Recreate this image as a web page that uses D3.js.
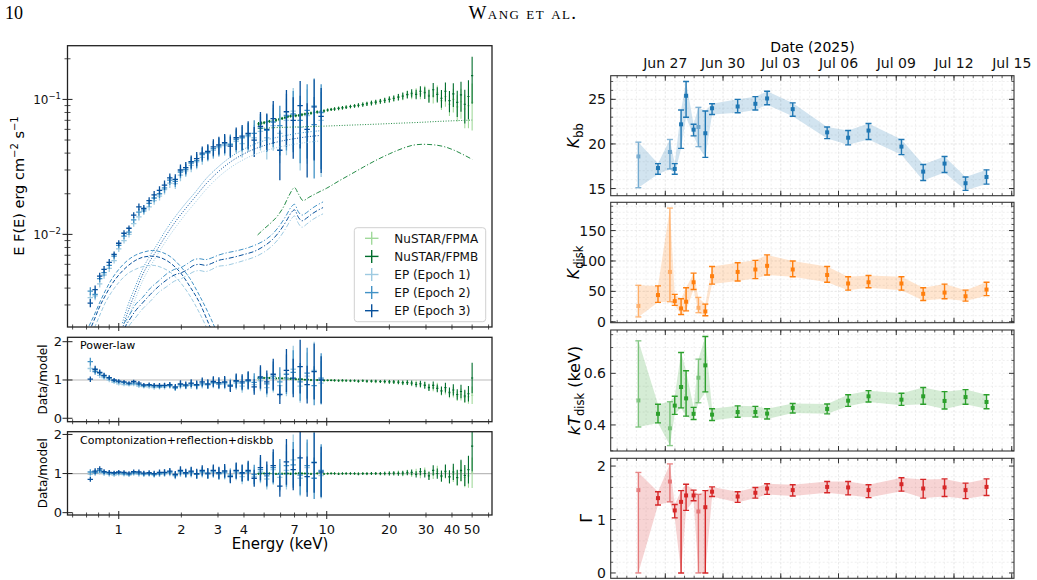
<!DOCTYPE html>
<html>
<head>
<meta charset="utf-8">
<script src="https://cdn.jsdelivr.net/npm/d3@7"></script>
<style>
  body { margin: 0; background: #fff; }
  svg { display: block; font-family: "DejaVu Sans", sans-serif; }
</style>
</head>
<body>
<div class="chart"></div>
<script>
// ---------- spectrum data (left) ----------
const epEnergy = [0.73, 0.77, 0.81, 0.85, 0.90, 0.95, 1.00, 1.06, 1.12, 1.18,
  1.25, 1.32, 1.40, 1.48, 1.57, 1.66, 1.76, 1.87, 1.98, 2.10,
  2.23, 2.37, 2.52, 2.68, 2.85, 3.03, 3.23, 3.44, 3.67, 3.92,
  4.19, 4.48, 4.80, 5.15, 5.53, 5.95, 6.40, 6.90, 7.45, 8.05,
  8.70, 9.40];
const ep1Flux = [0.0034, 0.0035, 0.0043, 0.0050, 0.0056, 0.0064, 0.0078, 0.0090, 0.0100, 0.0120,
  0.0135, 0.0148, 0.0160, 0.0178, 0.0192, 0.0215, 0.0240, 0.0238, 0.0275, 0.0296,
  0.0325, 0.0345, 0.0372, 0.0398, 0.0420, 0.0440, 0.0455, 0.0470, 0.0490, 0.0470,
  0.0530, 0.0520, 0.0580, 0.0520, 0.0640, 0.0560, 0.0700, 0.0820, 0.0620, 0.0760,
  0.0900, 0.0700];
const ep2Flux = [0.0038, 0.0036, 0.0047, 0.0052, 0.0059, 0.0069, 0.0083, 0.0097, 0.0104, 0.0128,
  0.0146, 0.0152, 0.0170, 0.0186, 0.0200, 0.0221, 0.0252, 0.0247, 0.0290, 0.0303,
  0.0338, 0.0352, 0.0390, 0.0405, 0.0432, 0.0450, 0.0468, 0.0462, 0.0505, 0.0520,
  0.0545, 0.0560, 0.0610, 0.0590, 0.0680, 0.0640, 0.0760, 0.0780, 0.0700, 0.0830,
  0.0650, 0.0800];
const ep3Flux = [0.0031, 0.0039, 0.0049, 0.0055, 0.0062, 0.0071, 0.0086, 0.0102, 0.0111, 0.0139,
  0.0160, 0.0156, 0.0178, 0.0196, 0.0212, 0.0232, 0.0262, 0.0256, 0.0300, 0.0312,
  0.0346, 0.0364, 0.0400, 0.0412, 0.0445, 0.0460, 0.0478, 0.0450, 0.0520, 0.0535,
  0.0560, 0.0500, 0.0630, 0.0600, 0.0720, 0.0420, 0.0810, 0.0700, 0.0900, 0.0600,
  0.0880, 0.0750];
const epErrFrac = [0.07, 0.07, 0.06, 0.06, 0.06, 0.05, 0.05, 0.05, 0.05, 0.05,
  0.06, 0.06, 0.06, 0.07, 0.07, 0.08, 0.08, 0.09, 0.10, 0.10,
  0.11, 0.12, 0.12, 0.13, 0.14, 0.15, 0.16, 0.18, 0.19, 0.21,
  0.23, 0.25, 0.28, 0.31, 0.35, 0.40, 0.45, 0.48, 0.52, 0.56,
  0.60, 0.62];
const ep1RatioPL = [1.30, 1.25, 1.12, 1.06, 1.00, 0.94, 0.90, 0.88, 0.87, 0.88,
  0.84, 0.83, 0.82, 0.80, 0.81, 0.82, 0.84, 0.78, 0.84, 0.84,
  0.86, 0.85, 0.88, 0.88, 0.91, 0.89, 0.90, 0.88, 0.92, 0.84,
  0.96, 0.88, 0.98, 0.80, 1.04, 0.85, 1.05, 1.28, 0.84, 1.10,
  1.25, 0.92];
const ep2RatioPL = [1.48, 1.22, 1.18, 1.10, 1.05, 0.98, 0.95, 0.93, 0.90, 0.92,
  0.88, 0.85, 0.86, 0.84, 0.83, 0.85, 0.86, 0.80, 0.88, 0.85,
  0.90, 0.86, 0.92, 0.88, 0.94, 0.90, 0.93, 0.86, 0.96, 0.92,
  0.98, 0.94, 1.04, 0.90, 1.10, 0.95, 1.15, 1.20, 0.95, 1.18,
  0.85, 1.05];
const ep3RatioPL = [1.02, 1.28, 1.20, 1.12, 1.06, 1.00, 0.97, 0.95, 0.92, 0.96,
  0.92, 0.87, 0.88, 0.86, 0.86, 0.86, 0.88, 0.82, 0.90, 0.87,
  0.92, 0.88, 0.95, 0.90, 0.96, 0.93, 0.95, 0.84, 0.98, 0.95,
  1.00, 0.82, 1.08, 0.95, 1.15, 0.62, 1.25, 1.05, 1.35, 0.88,
  1.22, 1.00];
const ep1RatioComp = [0.98, 1.05, 1.04, 1.00, 0.98, 0.96, 0.98, 0.97, 0.96, 0.99,
  0.98, 0.97, 0.98, 0.96, 0.98, 0.99, 1.01, 0.94, 1.01, 0.99,
  1.01, 0.98, 1.02, 1.00, 1.03, 0.99, 1.01, 0.97, 1.02, 0.92,
  1.04, 0.93, 1.04, 0.86, 1.10, 0.90, 1.08, 1.35, 0.88, 1.15,
  1.30, 0.95];
const ep2RatioComp = [1.04, 1.02, 1.08, 1.03, 1.01, 1.00, 1.02, 1.00, 0.98, 1.02,
  1.01, 0.99, 1.00, 0.98, 1.00, 1.02, 1.04, 0.96, 1.05, 1.00,
  1.04, 0.98, 1.05, 0.99, 1.06, 1.00, 1.04, 0.94, 1.06, 1.00,
  1.05, 0.98, 1.10, 0.94, 1.15, 0.98, 1.20, 1.22, 0.96, 1.20,
  0.88, 1.08];
const ep3RatioComp = [0.85, 1.06, 1.12, 1.05, 1.03, 1.02, 1.04, 1.03, 1.01, 1.05,
  1.04, 1.01, 1.02, 1.00, 1.03, 1.03, 1.06, 0.98, 1.08, 1.02,
  1.06, 1.00, 1.08, 1.01, 1.08, 1.02, 1.07, 0.92, 1.08, 1.02,
  1.08, 0.88, 1.15, 1.00, 1.20, 0.68, 1.30, 1.10, 1.40, 0.92,
  1.28, 1.04];

const nuEnergy = [4.70, 4.85, 5.00, 5.15, 5.30, 5.50, 5.70, 5.90, 6.10, 6.30,
  6.50, 6.70, 6.90, 7.10, 7.35, 7.60, 7.85, 8.10, 8.40, 8.70,
  9.00, 9.35, 9.70, 10.1, 10.5, 10.9, 11.4, 11.9, 12.4, 13.0,
  13.6, 14.2, 14.9, 15.6, 16.4, 17.2, 18.1, 19.0, 20.0, 21.0,
  22.1, 23.2, 24.4, 25.6, 26.9, 28.2, 29.6, 31.0, 32.5, 34.0,
  35.6, 37.2, 38.9, 40.6, 42.4, 44.2, 46.1, 48.0, 50.0];
const fpmaFlux = [0.0655, 0.0662, 0.0675, 0.0678, 0.0690, 0.0692, 0.0705, 0.0708, 0.0725, 0.0730,
  0.0745, 0.0755, 0.0750, 0.0762, 0.0760, 0.0772, 0.0775, 0.0788, 0.0790, 0.0805,
  0.0805, 0.0818, 0.0820, 0.0832, 0.0845, 0.0848, 0.0860, 0.0865, 0.0878, 0.0882,
  0.0898, 0.0902, 0.0918, 0.0925, 0.0945, 0.0950, 0.0972, 0.0980, 0.1005, 0.1015,
  0.1045, 0.1050, 0.1095, 0.1080, 0.1120, 0.1100, 0.1150, 0.1080, 0.1060, 0.1120,
  0.0980, 0.1050, 0.0920, 0.1000, 0.0880, 0.0960, 0.0850, 0.0900, 0.0950];
const fpmbFlux = [0.0660, 0.0668, 0.0672, 0.0680, 0.0688, 0.0695, 0.0702, 0.0712, 0.0722, 0.0735,
  0.0748, 0.0752, 0.0755, 0.0758, 0.0762, 0.0770, 0.0778, 0.0785, 0.0792, 0.0800,
  0.0808, 0.0815, 0.0822, 0.0835, 0.0842, 0.0850, 0.0858, 0.0868, 0.0875, 0.0885,
  0.0895, 0.0905, 0.0915, 0.0928, 0.0940, 0.0955, 0.0968, 0.0985, 0.1000, 0.1020,
  0.1040, 0.1060, 0.1085, 0.1110, 0.1090, 0.1150, 0.1120, 0.1060, 0.1180, 0.1090,
  0.1020, 0.1150, 0.0980, 0.1100, 0.0950, 0.1080, 0.0920, 0.1050, 0.1500];
const nuErrFrac = [0.030, 0.025, 0.025, 0.025, 0.025, 0.025, 0.025, 0.025, 0.025, 0.025,
  0.025, 0.025, 0.025, 0.025, 0.025, 0.025, 0.025, 0.025, 0.025, 0.025,
  0.025, 0.025, 0.025, 0.025, 0.025, 0.030, 0.030, 0.030, 0.030, 0.030,
  0.030, 0.035, 0.035, 0.035, 0.040, 0.040, 0.040, 0.045, 0.050, 0.050,
  0.055, 0.060, 0.065, 0.070, 0.080, 0.090, 0.100, 0.110, 0.120, 0.130,
  0.150, 0.160, 0.180, 0.200, 0.220, 0.250, 0.280, 0.320, 0.380];
const fpmaRatioPL = [1.04, 1.05, 1.06, 1.05, 1.06, 1.04, 1.05, 1.03, 1.05, 1.03,
  1.03, 1.04, 1.02, 1.03, 1.01, 1.02, 1.00, 1.02, 0.99, 1.01,
  0.99, 1.00, 0.98, 0.99, 1.00, 0.98, 0.99, 0.97, 0.99, 0.97,
  0.98, 0.96, 0.98, 0.96, 0.97, 0.95, 0.96, 0.95, 0.96, 0.94,
  0.95, 0.92, 0.94, 0.90, 0.92, 0.87, 0.88, 0.82, 0.80, 0.82,
  0.70, 0.74, 0.64, 0.68, 0.58, 0.62, 0.55, 0.56, 0.60];
const fpmbRatioPL = [1.05, 1.06, 1.05, 1.06, 1.05, 1.05, 1.04, 1.05, 1.04, 1.05,
  1.04, 1.03, 1.03, 1.02, 1.02, 1.02, 1.01, 1.01, 1.00, 1.00,
  1.00, 1.00, 0.99, 0.99, 0.99, 0.99, 0.98, 0.99, 0.98, 0.98,
  0.98, 0.97, 0.98, 0.97, 0.97, 0.97, 0.96, 0.96, 0.95, 0.95,
  0.94, 0.93, 0.93, 0.92, 0.88, 0.90, 0.86, 0.80, 0.86, 0.78,
  0.72, 0.80, 0.68, 0.74, 0.62, 0.70, 0.58, 0.64, 1.05];
const fpmaRatioComp = [0.99, 1.00, 1.01, 0.99, 1.01, 1.00, 1.00, 0.99, 1.01, 0.99,
  1.00, 1.01, 0.99, 1.00, 0.99, 1.01, 1.00, 1.00, 1.00, 0.99,
  1.01, 1.00, 1.00, 0.99, 1.01, 1.00, 1.00, 0.99, 1.00, 1.00,
  0.99, 1.00, 1.00, 0.99, 1.00, 1.00, 0.99, 1.00, 1.01, 1.00,
  1.02, 0.99, 1.03, 0.98, 1.04, 0.97, 1.05, 0.95, 0.98, 1.06,
  0.92, 1.04, 0.90, 0.98, 0.88, 1.05, 0.90, 0.94, 1.02];
const fpmbRatioComp = [1.00, 1.01, 1.00, 1.01, 1.00, 1.00, 0.99, 1.00, 0.99, 1.00,
  1.00, 0.99, 1.00, 1.00, 1.01, 1.00, 1.00, 1.00, 0.99, 1.00,
  1.00, 1.00, 0.99, 1.00, 1.00, 1.00, 0.99, 1.00, 1.00, 1.00,
  1.00, 0.99, 1.00, 1.00, 1.00, 1.00, 1.00, 1.00, 1.00, 1.01,
  1.00, 1.01, 1.02, 1.03, 0.98, 1.05, 1.00, 0.94, 1.08, 1.00,
  0.94, 1.06, 0.92, 1.04, 0.90, 1.08, 0.95, 1.10, 1.70];

// model components
const bbodyE = [1.04, 1.10, 1.20, 1.30, 1.40, 1.52, 1.70, 1.90, 2.10, 2.30, 2.65, 3.00, 3.50, 4.20, 5.00, 6.00, 7.00, 8.00, 9.20];
const bbodyEp1 = [0.0018, 0.0023, 0.0033, 0.0045, 0.0056, 0.0069, 0.0091, 0.0116, 0.0142, 0.0168, 0.0218, 0.0264, 0.0318, 0.0373, 0.0414, 0.0446, 0.0466, 0.0480, 0.0492];
const bbodyEp2 = [0.0022, 0.0029, 0.0041, 0.0055, 0.0068, 0.0083, 0.0110, 0.0140, 0.0170, 0.0200, 0.0262, 0.0315, 0.0380, 0.0445, 0.0495, 0.0530, 0.0555, 0.0572, 0.0585];
const bbodyEp3 = [0.0020, 0.0026, 0.0037, 0.0050, 0.0062, 0.0076, 0.0100, 0.0128, 0.0156, 0.0185, 0.0240, 0.0290, 0.0350, 0.0410, 0.0455, 0.0490, 0.0512, 0.0528, 0.0540];
const diskE = [0.72, 0.76, 0.80, 0.86, 0.92, 1.00, 1.10, 1.20, 1.32, 1.45, 1.60, 1.78, 1.98, 2.20, 2.45, 2.70, 3.00];
const diskEp1 = [0.0017, 0.0020, 0.0024, 0.0031, 0.0037, 0.0044, 0.0051, 0.0055, 0.0058, 0.0059, 0.0057, 0.0052, 0.0044, 0.0035, 0.0026, 0.0019, 0.0013];
const diskEp2 = [0.0021, 0.0025, 0.0030, 0.0038, 0.0046, 0.0055, 0.0064, 0.0070, 0.0074, 0.0076, 0.0074, 0.0068, 0.0058, 0.0047, 0.0035, 0.0026, 0.0018];
const diskEp3 = [0.0019, 0.0023, 0.0028, 0.0035, 0.0042, 0.0050, 0.0058, 0.0064, 0.0068, 0.0069, 0.0067, 0.0061, 0.0052, 0.0041, 0.0031, 0.0022, 0.0015];
const reflE = [1.06, 1.12, 1.20, 1.30, 1.42, 1.55, 1.70, 1.85, 2.00, 2.15, 2.30, 2.45, 2.60, 2.80, 3.00, 3.30, 3.60, 4.00, 4.50, 5.00, 5.50, 6.00, 6.40, 6.75, 7.00, 7.30, 7.60, 8.00, 8.50, 9.00, 9.60];
const reflEp1 = [0.0018, 0.0021, 0.0024, 0.0028, 0.0032, 0.0037, 0.0041, 0.0045, 0.0047, 0.0050, 0.0053, 0.0054, 0.0053, 0.0055, 0.0058, 0.0059, 0.0061, 0.0064, 0.0068, 0.0074, 0.0083, 0.0097, 0.0113, 0.0130, 0.0137, 0.0121, 0.0113, 0.0119, 0.0128, 0.0135, 0.0142];
const reflEp2 = [0.0022, 0.0025, 0.0030, 0.0034, 0.0040, 0.0045, 0.0051, 0.0055, 0.0057, 0.0061, 0.0065, 0.0066, 0.0065, 0.0067, 0.0070, 0.0073, 0.0075, 0.0078, 0.0083, 0.0090, 0.0101, 0.0119, 0.0139, 0.0160, 0.0167, 0.0147, 0.0139, 0.0145, 0.0156, 0.0165, 0.0174];
const reflEp3 = [0.0020, 0.0023, 0.0027, 0.0031, 0.0036, 0.0041, 0.0046, 0.0050, 0.0052, 0.0055, 0.0059, 0.0060, 0.0059, 0.0061, 0.0064, 0.0066, 0.0068, 0.0071, 0.0075, 0.0082, 0.0092, 0.0108, 0.0126, 0.0145, 0.0152, 0.0134, 0.0126, 0.0132, 0.0142, 0.0150, 0.0158];
const nuContE = [4.7, 6, 8, 10, 13, 17, 22, 28, 35, 42, 50];
const nuContF = [0.0610, 0.0620, 0.0628, 0.0635, 0.0645, 0.0655, 0.0666, 0.0676, 0.0688, 0.0696, 0.0703];
const nuReflE = [4.65, 5.0, 5.4, 5.8, 6.2, 6.6, 7.0, 7.3, 7.7, 8.2, 9.0, 10, 11.5, 13, 15, 17.5, 20, 23, 26, 29, 33, 37, 41, 45, 50];
const nuReflF = [0.0099, 0.0110, 0.0122, 0.0137, 0.0160, 0.0195, 0.0222, 0.0200, 0.0178, 0.0188, 0.0203, 0.0220, 0.0250, 0.0278, 0.0315, 0.0358, 0.0395, 0.0432, 0.0458, 0.0465, 0.0460, 0.0445, 0.0420, 0.0392, 0.0360];

const energyTickLabels = [1, 2, 3, 4, 7, 10, 20, 30, 40, 50];

// ---------- time series data (right) ----------
const obsTime = ['2025-06-25T14:24', '2025-06-26T14:53', '2025-06-27T05:46', '2025-06-27T11:46',
  '2025-06-27T19:41', '2025-06-28T01:55', '2025-06-28T11:17', '2025-06-28T17:17',
  '2025-06-29T01:55', '2025-06-29T10:19', '2025-06-30T18:14', '2025-07-01T16:19',
  '2025-07-02T06:58', '2025-07-03T14:53', '2025-07-05T09:50', '2025-07-06T12:00',
  '2025-07-07T13:26', '2025-07-09T06:29', '2025-07-10T09:36', '2025-07-11T12:14',
  '2025-07-12T14:24', '2025-07-13T16:34'];
const faint = [1, 0, 1, 0, 0, 0, 0, 1, 0, 0, 0, 0, 0, 0, 0, 0, 0, 0, 0, 0, 0, 0];
const kbb = [18.6, 17.3, 19.1, 17.2, 22.2, 25.4, 21.6, 21.9, 21.2, 24.0, 24.2, 24.5, 25.1, 23.9, 21.3, 20.7, 21.5, 19.7, 16.9, 17.8, 15.6, 16.3];
const kbbLo = [15.1, 16.6, 17.2, 16.6, 19.5, 23.0, 20.9, 19.7, 18.5, 23.3, 23.5, 23.8, 24.4, 23.1, 20.6, 19.9, 20.5, 18.8, 15.9, 16.8, 14.8, 15.5];
const kbbHi = [20.2, 17.8, 20.5, 17.8, 23.8, 27.0, 22.2, 24.1, 23.7, 24.5, 25.0, 25.3, 25.9, 24.6, 21.9, 21.5, 22.3, 20.5, 17.7, 18.6, 16.3, 17.1];
const kdisk = [26, 44, 82, 34, 22, 33, 65, 23, 17, 75, 82, 86, 92, 86, 77, 63, 65, 63, 46, 48, 42, 53];
const kdiskLo = [8, 32, 33, 27, 12, 18, 53, 15, 10, 62, 67, 71, 77, 74, 65, 52, 56, 52, 35, 38, 34, 43];
const kdiskHi = [60, 59, 187, 45, 38, 56, 80, 40, 29, 91, 97, 101, 110, 100, 91, 74, 76, 74, 56, 62, 52, 65];
const ktdisk = [0.495, 0.443, 0.387, 0.475, 0.547, 0.503, 0.443, 0.583, 0.631, 0.440, 0.450, 0.450, 0.444, 0.466, 0.462, 0.494, 0.511, 0.498, 0.511, 0.493, 0.508, 0.489];
const ktdiskLo = [0.392, 0.408, 0.320, 0.441, 0.466, 0.434, 0.421, 0.486, 0.528, 0.417, 0.430, 0.431, 0.423, 0.446, 0.443, 0.472, 0.489, 0.476, 0.480, 0.462, 0.480, 0.463];
const ktdiskHi = [0.726, 0.480, 0.490, 0.511, 0.681, 0.610, 0.468, 0.655, 0.743, 0.463, 0.474, 0.472, 0.463, 0.483, 0.481, 0.517, 0.533, 0.523, 0.545, 0.529, 0.537, 0.517];
const gamma = [1.55, 1.40, 1.71, 1.17, 1.33, 1.45, 1.45, 1.15, 1.23, 1.52, 1.43, 1.50, 1.58, 1.55, 1.61, 1.60, 1.55, 1.66, 1.58, 1.60, 1.55, 1.61];
const gammaLo = [0.0, 1.27, 1.33, 1.03, 0.0, 1.17, 1.35, 0.0, 0.0, 1.43, 1.32, 1.40, 1.47, 1.44, 1.50, 1.46, 1.41, 1.53, 1.40, 1.43, 1.39, 1.45];
const gammaHi = [1.88, 1.52, 2.04, 1.28, 1.54, 1.66, 1.55, 1.47, 1.54, 1.61, 1.52, 1.60, 1.67, 1.65, 1.71, 1.71, 1.65, 1.78, 1.75, 1.76, 1.68, 1.76];

// ---------- svg ----------
const width = 1037, height = 580;
const svg = d3.select('.chart').append('svg')
  .attr('width', width).attr('height', height)
  .attr('viewBox', `0 0 ${width} ${height}`);
svg.append('rect').attr('width', width).attr('height', height).attr('fill', '#fff');

// page header
svg.append('text').attr('x', 5).attr('y', 18.5)
  .attr('font-family', '"Liberation Serif", serif').attr('font-size', 18).text('10');
svg.append('text').attr('x', 523).attr('y', 18.5).attr('text-anchor', 'middle')
  .attr('font-family', '"Liberation Serif", serif').attr('font-size', 19)
  .attr('letter-spacing', 1.4)
  .style('font-variant', 'small-caps').text('Wang et al.');

function clipRect(id, x0, y0, x1, y1) {
  svg.append('clipPath').attr('id', id).append('rect')
    .attr('x', x0).attr('y', y0).attr('width', x1 - x0).attr('height', y1 - y0);
}

// ================= LEFT: spectrum =================
const LX0 = 67.5, LX1 = 492;
const xE = d3.scaleLog().domain([0.567, 62.3]).range([LX0, LX1]);
const yF = d3.scaleLog().domain([0.00206, 0.25]).range([327, 45.7]);
const yR1 = d3.scaleLinear().domain([-0.09, 2.115]).range([421.7, 337.3]);
const yR2 = d3.scaleLinear().domain([-0.06, 2.07]).range([515, 431.7]);

const cFPMA = '#a1d99b', cFPMB = '#006d2c';
const cEP1 = '#9ecae1', cEP2 = '#4292c6', cEP3 = '#08519c';

clipRect('cMain', LX0, 45.7, LX1, 327);
clipRect('cR1', LX0, 337.3, LX1, 421.7);
clipRect('cR2', LX0, 431.7, LX1, 515);

// error-bar crosses
function crosses(g, energy, vals, errFrac, xFrac, y, color, sw, floor) {
  const rows = energy.map((e, i) => ({e, v: vals[i], dv: vals[i] * errFrac[i]}));
  g.selectAll(null).data(rows).join('line')
    .attr('x1', d => xE(d.e)).attr('x2', d => xE(d.e))
    .attr('y1', d => y(Math.max(d.v - d.dv, floor))).attr('y2', d => y(d.v + d.dv))
    .attr('stroke', color).attr('stroke-width', sw);
  g.selectAll(null).data(rows).join('line')
    .attr('x1', d => xE(d.e * (1 - xFrac))).attr('x2', d => xE(d.e * (1 + xFrac)))
    .attr('y1', d => y(d.v)).attr('y2', d => y(d.v))
    .attr('stroke', color).attr('stroke-width', sw);
}

const modelLine = d3.line().x(d => xE(d[0])).y(d => yF(d[1])).curve(d3.curveMonotoneX);
function model(g, es, fs, color, dash, w) {
  g.append('path').datum(es.map((e, i) => [e, fs[i]]))
    .attr('d', modelLine).attr('fill', 'none')
    .attr('stroke', color).attr('stroke-width', w).attr('stroke-dasharray', dash);
}

// main panel
const gMain = svg.append('g').attr('clip-path', 'url(#cMain)');
crosses(gMain, nuEnergy, fpmaFlux, nuErrFrac, 0.012, yF, cFPMA, 1.1, 0.0021);
crosses(gMain, nuEnergy, fpmbFlux, nuErrFrac, 0.012, yF, cFPMB, 1.1, 0.0021);
crosses(gMain, epEnergy, ep1Flux, epErrFrac, 0.03, yF, cEP1, 1.3, 0.0021);
crosses(gMain, epEnergy, ep2Flux, epErrFrac, 0.03, yF, cEP2, 1.3, 0.0021);
crosses(gMain, epEnergy, ep3Flux, epErrFrac, 0.03, yF, cEP3, 1.3, 0.0021);

const dot = '1,1.6', dash = '4,2', dashdot = '5,2,1.2,2';
model(gMain, bbodyE, bbodyEp1, cEP1, dot, 1);
model(gMain, bbodyE, bbodyEp2, cEP2, dot, 1);
model(gMain, bbodyE, bbodyEp3, cEP3, dot, 1);
model(gMain, diskE, diskEp1, cEP1, dash, 1);
model(gMain, diskE, diskEp2, cEP2, dash, 1);
model(gMain, diskE, diskEp3, cEP3, dash, 1);
model(gMain, reflE, reflEp1, cEP1, dashdot, 1);
model(gMain, reflE, reflEp2, cEP2, dashdot, 1);
model(gMain, reflE, reflEp3, cEP3, dashdot, 1);
model(gMain, nuContE, nuContF, '#238b45', dot, 1);
model(gMain, nuReflE, nuReflF, '#238b45', dashdot, 1);

// residual panels
function residual(clipId, y, ratios, label, labelY) {
  const g = svg.append('g').attr('clip-path', `url(#${clipId})`);
  g.append('line').attr('x1', LX0).attr('x2', LX1).attr('y1', y(1)).attr('y2', y(1))
    .attr('stroke', '#bbb').attr('stroke-width', 1.2);
  crosses(g, nuEnergy, ratios[0], nuErrFrac, 0.012, y, cFPMA, 1.1, -1);
  crosses(g, nuEnergy, ratios[1], nuErrFrac, 0.012, y, cFPMB, 1.1, -1);
  crosses(g, epEnergy, ratios[2], epErrFrac, 0.03, y, cEP1, 1.3, -1);
  crosses(g, epEnergy, ratios[3], epErrFrac, 0.03, y, cEP2, 1.3, -1);
  crosses(g, epEnergy, ratios[4], epErrFrac, 0.03, y, cEP3, 1.3, -1);
  svg.append('text').attr('x', 80).attr('y', labelY).attr('font-size', 11).text(label);
}
residual('cR1', yR1, [fpmaRatioPL, fpmbRatioPL, ep1RatioPL, ep2RatioPL, ep3RatioPL], 'Power-law', 349);
residual('cR2', yR2, [fpmaRatioComp, fpmbRatioComp, ep1RatioComp, ep2RatioComp, ep3RatioComp], 'Comptonization+reflection+diskbb', 444);

// frames and ticks for left panels
const energyMajor = [1, 10];
const energyMinor = [0.6, 0.7, 0.8, 0.9, 2, 3, 4, 5, 6, 7, 8, 9, 20, 30, 40, 50, 60];
function leftFrame(y0, y1, showLabels) {
  const g = svg.append('g').attr('stroke', '#222');
  g.append('rect').attr('x', LX0).attr('y', y0).attr('width', LX1 - LX0).attr('height', y1 - y0)
    .attr('fill', 'none').attr('stroke-width', 1.3);
  g.selectAll(null).data(energyMajor).join('line')
    .attr('x1', d => xE(d)).attr('x2', d => xE(d)).attr('y1', y1 - 4).attr('y2', y1 + 4).attr('stroke-width', 1);
  g.selectAll(null).data(energyMinor).join('line')
    .attr('x1', d => xE(d)).attr('x2', d => xE(d)).attr('y1', y1 - 2.5).attr('y2', y1 + 2.5).attr('stroke-width', 0.8);
  if (showLabels) {
    svg.append('g').selectAll('text').data(energyTickLabels).join('text')
      .attr('x', d => xE(d)).attr('y', y1 + 19).attr('text-anchor', 'middle')
      .attr('font-size', 13).attr('fill', '#111').text(d => d);
  }
}
leftFrame(45.7, 327, false);
leftFrame(337.3, 421.7, false);
leftFrame(431.7, 515, true);

// main y ticks
const fluxMajor = [0.01, 0.1];
const fluxMinor = [0.003, 0.004, 0.005, 0.006, 0.007, 0.008, 0.009,
  0.02, 0.03, 0.04, 0.05, 0.06, 0.07, 0.08, 0.09, 0.2];
svg.append('g').attr('stroke', '#222').selectAll('line').data(fluxMajor).join('line')
  .attr('x1', LX0 - 5).attr('x2', LX0 + 5).attr('y1', d => yF(d)).attr('y2', d => yF(d)).attr('stroke-width', 1);
svg.append('g').attr('stroke', '#222').selectAll('line').data(fluxMinor).join('line')
  .attr('x1', LX0 - 3).attr('x2', LX0 + 3).attr('y1', d => yF(d)).attr('y2', d => yF(d)).attr('stroke-width', 0.8);
const fluxLab = svg.append('g').selectAll('text').data(fluxMajor).join('text')
  .attr('x', 61).attr('y', d => yF(d) + 4.5).attr('text-anchor', 'end').attr('font-size', 12).attr('fill', '#111');
fluxLab.append('tspan').text('10');
fluxLab.append('tspan').attr('dy', -5).attr('font-size', 8.5).text(d => '\u2212' + Math.round(-Math.log10(d)));

// residual y ticks
[[yR1], [yR2]].forEach(([y]) => {
  svg.append('g').attr('stroke', '#222').selectAll('line').data([0, 1, 2]).join('line')
    .attr('x1', LX0 - 5).attr('x2', LX0 + 5).attr('y1', d => y(d)).attr('y2', d => y(d)).attr('stroke-width', 1);
  svg.append('g').selectAll('text').data([0, 1, 2]).join('text')
    .attr('x', 62).attr('y', d => y(d) + 4.5).attr('text-anchor', 'end').attr('font-size', 13).attr('fill', '#111').text(d => d);
});

// axis labels
svg.append('text').attr('x', 280).attr('y', 549).attr('text-anchor', 'middle').attr('font-size', 15).text('Energy (keV)');
const yl = svg.append('text').attr('transform', 'translate(24,186) rotate(-90)').attr('text-anchor', 'middle').attr('font-size', 14.5);
yl.append('tspan').text('E F(E) erg cm');
yl.append('tspan').attr('dy', -6).attr('font-size', 10).text('\u22122');
yl.append('tspan').attr('dy', 6).text(' s');
yl.append('tspan').attr('dy', -6).attr('font-size', 10).text('\u22121');
svg.append('text').attr('transform', 'translate(47,379.5) rotate(-90)').attr('text-anchor', 'middle').attr('font-size', 12).text('Data/model');
svg.append('text').attr('transform', 'translate(47,473.3) rotate(-90)').attr('text-anchor', 'middle').attr('font-size', 12).text('Data/model');

// legend
const legendItems = [['NuSTAR/FPMA', cFPMA], ['NuSTAR/FPMB', cFPMB], ['EP (Epoch 1)', cEP1], ['EP (Epoch 2)', cEP2], ['EP (Epoch 3)', cEP3]];
const lg = svg.append('g');
lg.append('rect').attr('x', 354.3).attr('y', 227.7).attr('width', 131.4).attr('height', 94)
  .attr('rx', 3).attr('fill', '#fff').attr('fill-opacity', 0.85).attr('stroke', '#d0d0d0');
legendItems.forEach(([name, col], i) => {
  const cy = 238.3 + i * 18.1;
  lg.append('line').attr('x1', 365).attr('x2', 378.5).attr('y1', cy).attr('y2', cy).attr('stroke', col).attr('stroke-width', 1.4);
  lg.append('line').attr('x1', 371.7).attr('x2', 371.7).attr('y1', cy - 6.5).attr('y2', cy + 6.5).attr('stroke', col).attr('stroke-width', 1.4);
  lg.append('text').attr('x', 394.3).attr('y', cy + 4.3).attr('font-size', 12).attr('fill', '#111').text(name);
});

// ================= RIGHT: parameter evolution =================
const RX0 = 610.7, RX1 = 1014;
const xT = d3.scaleUtc()
  .domain([new Date('2025-06-24T03:55Z'), new Date('2025-07-15T02:50Z')])
  .range([RX0, RX1]);
const dayMajor = d3.utcDay.range(new Date('2025-06-27T00:00Z'), new Date('2025-07-16T00:00Z'), 3);
const dayMinor = d3.utcHour.every(12).range(xT.domain()[0], xT.domain()[1]);
const fmtDay = d3.utcFormat('%b %d');

const panels = [
  {v: kbb, lo: kbbLo, hi: kbbHi, color: '#1f77b4', dom: [14.2, 27.65], y0: 75.7, y1: 195.7,
    major: [15, 20, 25], minor: d3.range(15, 28, 1), lab: 'Kbb'},
  {v: kdisk, lo: kdiskLo, hi: kdiskHi, color: '#ff7f0e', dom: [-1.5, 196.5], y0: 202.3, y1: 322.7,
    major: [0, 50, 100, 150], minor: d3.range(0, 200, 10), lab: 'Kdisk'},
  {v: ktdisk, lo: ktdiskLo, hi: ktdiskHi, color: '#2ca02c', dom: [0.299, 0.768], y0: 330, y1: 451,
    major: [0.4, 0.6], minor: [0.3, 0.35, 0.45, 0.5, 0.55, 0.65, 0.7, 0.75], lab: 'kT'},
  {v: gamma, lo: gammaLo, hi: gammaHi, color: '#d62728', dom: [-0.1, 2.145], y0: 458.3, y1: 578.3,
    major: [0, 1, 2], minor: [0.2, 0.4, 0.6, 0.8, 1.2, 1.4, 1.6, 1.8], lab: 'G'}
];

panels.forEach((p, k) => {
  const y = d3.scaleLinear().domain(p.dom).range([p.y1, p.y0]);
  const id = 'cP' + k;
  clipRect(id, RX0, p.y0, RX1, p.y1);
  const g = svg.append('g').attr('clip-path', `url(#${id})`);

  // grid
  const gridX = dayMinor.concat(dayMajor);
  g.selectAll(null).data(gridX).join('line')
    .attr('x1', d => xT(d)).attr('x2', d => xT(d)).attr('y1', p.y0).attr('y2', p.y1)
    .attr('stroke', '#e4e4e4').attr('stroke-width', 0.6).attr('stroke-dasharray', '2,2');
  g.selectAll(null).data(p.major.concat(p.minor)).join('line')
    .attr('x1', RX0).attr('x2', RX1).attr('y1', d => y(d)).attr('y2', d => y(d))
    .attr('stroke', '#e4e4e4').attr('stroke-width', 0.6).attr('stroke-dasharray', '2,2');

  const rows = obsTime.map((t, i) => ({t: new Date(t + 'Z'), v: p.v[i], lo: p.lo[i], hi: p.hi[i], f: faint[i]}));

  // band
  g.append('path').datum(rows)
    .attr('d', d3.area().x(d => xT(d.t)).y0(d => y(d.lo)).y1(d => y(d.hi)))
    .attr('fill', p.color).attr('fill-opacity', 0.2);

  // error bars
  const eb = g.selectAll('g.eb').data(rows).join('g')
    .attr('opacity', d => d.f ? 0.55 : 1).attr('stroke', p.color).attr('stroke-width', 1.4);
  eb.append('line').attr('x1', d => xT(d.t)).attr('x2', d => xT(d.t)).attr('y1', d => y(d.lo)).attr('y2', d => y(d.hi));
  eb.append('line').attr('x1', d => xT(d.t) - 3).attr('x2', d => xT(d.t) + 3).attr('y1', d => y(d.lo)).attr('y2', d => y(d.lo));
  eb.append('line').attr('x1', d => xT(d.t) - 3).attr('x2', d => xT(d.t) + 3).attr('y1', d => y(d.hi)).attr('y2', d => y(d.hi));
  eb.append('rect').attr('x', d => xT(d.t) - 2).attr('y', d => y(d.v) - 2).attr('width', 4).attr('height', 4)
    .attr('fill', p.color).attr('stroke', 'none');

  // frame & inward ticks on all sides
  const fr = svg.append('g').attr('stroke', '#333');
  fr.append('rect').attr('x', RX0).attr('y', p.y0).attr('width', RX1 - RX0).attr('height', p.y1 - p.y0)
    .attr('fill', 'none').attr('stroke-width', 1.1);
  [[p.major, 5, 1], [p.minor, 2.5, 0.8]].forEach(([vals, len, sw]) => {
    fr.selectAll(null).data(vals).join('line')
      .attr('x1', RX0).attr('x2', RX0 + len).attr('y1', d => y(d)).attr('y2', d => y(d)).attr('stroke-width', sw);
    fr.selectAll(null).data(vals).join('line')
      .attr('x1', RX1 - len).attr('x2', RX1).attr('y1', d => y(d)).attr('y2', d => y(d)).attr('stroke-width', sw);
  });
  [[dayMajor, 5, 1], [dayMinor, 2.5, 0.8]].forEach(([vals, len, sw]) => {
    fr.selectAll(null).data(vals).join('line')
      .attr('x1', d => xT(d)).attr('x2', d => xT(d)).attr('y1', p.y0).attr('y2', p.y0 + len).attr('stroke-width', sw);
    fr.selectAll(null).data(vals).join('line')
      .attr('x1', d => xT(d)).attr('x2', d => xT(d)).attr('y1', p.y1 - len).attr('y2', p.y1).attr('stroke-width', sw);
  });

  // y tick labels
  svg.append('g').selectAll('text').data(p.major).join('text')
    .attr('x', 606).attr('y', d => y(d) + 5).attr('text-anchor', 'end')
    .attr('font-size', 14).attr('fill', '#111').text(d => d);

  // y label
  const cy = (p.y0 + p.y1) / 2;
  if (p.lab === 'Kbb' || p.lab === 'Kdisk') {
    const t = svg.append('text').attr('transform', `translate(579,${cy}) rotate(-90)`).attr('text-anchor', 'middle').attr('font-size', 16);
    t.append('tspan').attr('font-style', 'italic').text('K');
    t.append('tspan').attr('dy', 4).attr('font-size', 11.5).text(p.lab === 'Kbb' ? 'bb' : 'disk');
  } else if (p.lab === 'kT') {
    const t = svg.append('text').attr('transform', `translate(580,${cy}) rotate(-90)`).attr('text-anchor', 'middle').attr('font-size', 16);
    t.append('tspan').attr('font-style', 'italic').text('kT');
    t.append('tspan').attr('dy', 4).attr('font-size', 11.5).text('disk');
    t.append('tspan').attr('dy', -4).text(' (keV)');
  } else {
    svg.append('text').attr('transform', `translate(592,${cy}) rotate(-90)`).attr('text-anchor', 'middle').attr('font-size', 16).text('\u0393');
  }
});

// top date axis
svg.append('g').selectAll('text').data(dayMajor).join('text')
  .attr('x', d => xT(d)).attr('y', 68).attr('text-anchor', 'middle')
  .attr('font-size', 14).attr('fill', '#111').text(d => fmtDay(d));
svg.append('text').attr('x', 812.4).attr('y', 52).attr('text-anchor', 'middle').attr('font-size', 14).text('Date (2025)');
</script>
</body>
</html>
